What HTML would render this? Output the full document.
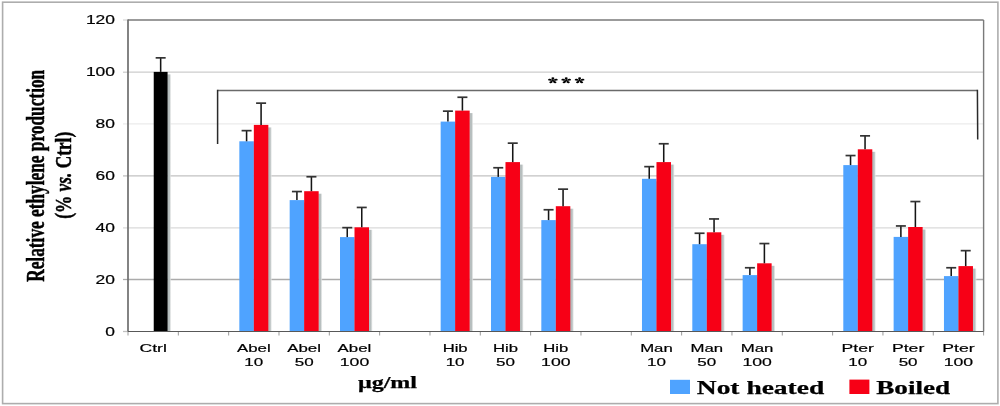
<!DOCTYPE html>
<html><head><meta charset="utf-8"><title>Chart</title>
<style>
html,body{margin:0;padding:0;background:#fff;}
body{width:1000px;height:406px;overflow:hidden;}
svg{display:block;will-change:transform;}
text{font-family:"Liberation Sans",sans-serif;fill:#000;}
.sf{font-family:"Liberation Serif",serif;}
.ss{stroke:#000;stroke-width:0.2px;}
.sb{stroke:#000;stroke-width:0.5px;}
.sl{stroke:#000;stroke-width:0.25px;}
</style></head><body>
<svg width="1000" height="406" viewBox="0 0 1000 406">
<rect width="1000" height="406" fill="#fff"/>
<defs><linearGradient id="shg" x1="0" x2="1" y1="0" y2="0"><stop offset="0" stop-color="#B4BCBC"/><stop offset="0.5" stop-color="#B8BFBF"/><stop offset="0.72" stop-color="#D4D8D8" stop-opacity="0.8"/><stop offset="1" stop-color="#FFFFFF" stop-opacity="0"/></linearGradient></defs>
<line x1="128" y1="279.5" x2="983.61" y2="279.5" stroke="#ABABAB" stroke-width="1.3"/>
<line x1="128" y1="227.9" x2="983.61" y2="227.9" stroke="#DADADA" stroke-width="1.3"/>
<line x1="128" y1="175.9" x2="983.61" y2="175.9" stroke="#C2C2C2" stroke-width="1.3"/>
<line x1="128" y1="123.9" x2="983.61" y2="123.9" stroke="#EBEBEB" stroke-width="1.3"/>
<line x1="128" y1="72.2" x2="983.61" y2="72.2" stroke="#CDCDCD" stroke-width="1.3"/>
<line x1="123" y1="331.5" x2="128" y2="331.5" stroke="#C0C0C0" stroke-width="1.3"/>
<line x1="123" y1="279.5" x2="128" y2="279.5" stroke="#ABABAB" stroke-width="1.3"/>
<line x1="123" y1="227.9" x2="128" y2="227.9" stroke="#DADADA" stroke-width="1.3"/>
<line x1="123" y1="175.9" x2="128" y2="175.9" stroke="#C2C2C2" stroke-width="1.3"/>
<line x1="123" y1="123.9" x2="128" y2="123.9" stroke="#EBEBEB" stroke-width="1.3"/>
<line x1="123" y1="72.2" x2="128" y2="72.2" stroke="#CDCDCD" stroke-width="1.3"/>
<line x1="123" y1="20" x2="128" y2="20" stroke="#D8D8D8" stroke-width="1.3"/>
<line x1="128" y1="331.5" x2="128" y2="335.5" stroke="#9A9A9A" stroke-width="1"/>
<line x1="178.33" y1="331.5" x2="178.33" y2="335.5" stroke="#9A9A9A" stroke-width="1"/>
<line x1="228.66" y1="331.5" x2="228.66" y2="335.5" stroke="#9A9A9A" stroke-width="1"/>
<line x1="278.99" y1="331.5" x2="278.99" y2="335.5" stroke="#9A9A9A" stroke-width="1"/>
<line x1="329.32" y1="331.5" x2="329.32" y2="335.5" stroke="#9A9A9A" stroke-width="1"/>
<line x1="379.65" y1="331.5" x2="379.65" y2="335.5" stroke="#9A9A9A" stroke-width="1"/>
<line x1="429.98" y1="331.5" x2="429.98" y2="335.5" stroke="#9A9A9A" stroke-width="1"/>
<line x1="480.31" y1="331.5" x2="480.31" y2="335.5" stroke="#9A9A9A" stroke-width="1"/>
<line x1="530.64" y1="331.5" x2="530.64" y2="335.5" stroke="#9A9A9A" stroke-width="1"/>
<line x1="580.97" y1="331.5" x2="580.97" y2="335.5" stroke="#9A9A9A" stroke-width="1"/>
<line x1="631.3" y1="331.5" x2="631.3" y2="335.5" stroke="#9A9A9A" stroke-width="1"/>
<line x1="681.63" y1="331.5" x2="681.63" y2="335.5" stroke="#9A9A9A" stroke-width="1"/>
<line x1="731.96" y1="331.5" x2="731.96" y2="335.5" stroke="#9A9A9A" stroke-width="1"/>
<line x1="782.29" y1="331.5" x2="782.29" y2="335.5" stroke="#9A9A9A" stroke-width="1"/>
<line x1="832.62" y1="331.5" x2="832.62" y2="335.5" stroke="#9A9A9A" stroke-width="1"/>
<line x1="882.95" y1="331.5" x2="882.95" y2="335.5" stroke="#9A9A9A" stroke-width="1"/>
<line x1="933.28" y1="331.5" x2="933.28" y2="335.5" stroke="#9A9A9A" stroke-width="1"/>
<line x1="983.61" y1="331.5" x2="983.61" y2="335.5" stroke="#9A9A9A" stroke-width="1"/>
<rect x="167.28" y="74.4" width="4.3" height="257.1" fill="url(#shg)"/>
<rect x="153.73" y="71.9" width="13.85" height="259.6" fill="#000000"/>
<rect x="253.54" y="143.8" width="4.3" height="187.7" fill="url(#shg)"/>
<rect x="239.34" y="141.3" width="14.5" height="190.2" fill="#4FA3FF"/>
<rect x="268.04" y="127.4" width="4.3" height="204.1" fill="url(#shg)"/>
<rect x="253.84" y="124.9" width="14.5" height="206.6" fill="#F70016"/>
<rect x="303.87" y="202.6" width="4.3" height="128.9" fill="url(#shg)"/>
<rect x="289.67" y="200.1" width="14.5" height="131.4" fill="#4FA3FF"/>
<rect x="318.37" y="193.7" width="4.3" height="137.8" fill="url(#shg)"/>
<rect x="304.17" y="191.2" width="14.5" height="140.3" fill="#F70016"/>
<rect x="354.2" y="239.6" width="4.3" height="91.9" fill="url(#shg)"/>
<rect x="340" y="237.1" width="14.5" height="94.4" fill="#4FA3FF"/>
<rect x="368.7" y="229.8" width="4.3" height="101.7" fill="url(#shg)"/>
<rect x="354.5" y="227.3" width="14.5" height="104.2" fill="#F70016"/>
<rect x="454.86" y="124.1" width="4.3" height="207.4" fill="url(#shg)"/>
<rect x="440.66" y="121.6" width="14.5" height="209.9" fill="#4FA3FF"/>
<rect x="469.36" y="113.1" width="4.3" height="218.4" fill="url(#shg)"/>
<rect x="455.16" y="110.6" width="14.5" height="220.9" fill="#F70016"/>
<rect x="505.19" y="179.4" width="4.3" height="152.1" fill="url(#shg)"/>
<rect x="490.99" y="176.9" width="14.5" height="154.6" fill="#4FA3FF"/>
<rect x="519.69" y="164.6" width="4.3" height="166.9" fill="url(#shg)"/>
<rect x="505.49" y="162.1" width="14.5" height="169.4" fill="#F70016"/>
<rect x="555.52" y="222.6" width="4.3" height="108.9" fill="url(#shg)"/>
<rect x="541.32" y="220.1" width="14.5" height="111.4" fill="#4FA3FF"/>
<rect x="570.02" y="208.7" width="4.3" height="122.8" fill="url(#shg)"/>
<rect x="555.82" y="206.2" width="14.5" height="125.3" fill="#F70016"/>
<rect x="656.18" y="181.3" width="4.3" height="150.2" fill="url(#shg)"/>
<rect x="641.98" y="178.8" width="14.5" height="152.7" fill="#4FA3FF"/>
<rect x="670.68" y="164.6" width="4.3" height="166.9" fill="url(#shg)"/>
<rect x="656.48" y="162.1" width="14.5" height="169.4" fill="#F70016"/>
<rect x="706.51" y="246.7" width="4.3" height="84.8" fill="url(#shg)"/>
<rect x="692.31" y="244.2" width="14.5" height="87.3" fill="#4FA3FF"/>
<rect x="721.01" y="234.8" width="4.3" height="96.7" fill="url(#shg)"/>
<rect x="706.81" y="232.3" width="14.5" height="99.2" fill="#F70016"/>
<rect x="756.84" y="277.6" width="4.3" height="53.9" fill="url(#shg)"/>
<rect x="742.64" y="275.1" width="14.5" height="56.4" fill="#4FA3FF"/>
<rect x="771.34" y="265.8" width="4.3" height="65.7" fill="url(#shg)"/>
<rect x="757.14" y="263.3" width="14.5" height="68.2" fill="#F70016"/>
<rect x="857.5" y="167.6" width="4.3" height="163.9" fill="url(#shg)"/>
<rect x="843.3" y="165.1" width="14.5" height="166.4" fill="#4FA3FF"/>
<rect x="872" y="151.8" width="4.3" height="179.7" fill="url(#shg)"/>
<rect x="857.8" y="149.3" width="14.5" height="182.2" fill="#F70016"/>
<rect x="907.83" y="239.4" width="4.3" height="92.1" fill="url(#shg)"/>
<rect x="893.63" y="236.9" width="14.5" height="94.6" fill="#4FA3FF"/>
<rect x="922.33" y="229.5" width="4.3" height="102" fill="url(#shg)"/>
<rect x="908.13" y="227" width="14.5" height="104.5" fill="#F70016"/>
<rect x="958.16" y="278.6" width="4.3" height="52.9" fill="url(#shg)"/>
<rect x="943.96" y="276.1" width="14.5" height="55.4" fill="#4FA3FF"/>
<rect x="972.66" y="268.6" width="4.3" height="62.9" fill="url(#shg)"/>
<rect x="958.46" y="266.1" width="14.5" height="65.4" fill="#F70016"/>
<line x1="160.66" y1="71.9" x2="160.66" y2="57.7" stroke="#151515" stroke-width="1.55"/>
<line x1="155.66" y1="57.85" x2="165.66" y2="57.85" stroke="#333" stroke-width="1.7"/>
<line x1="246.59" y1="141.3" x2="246.59" y2="130.5" stroke="#151515" stroke-width="1.55"/>
<line x1="241.59" y1="130.65" x2="251.59" y2="130.65" stroke="#333" stroke-width="1.7"/>
<line x1="261.09" y1="124.9" x2="261.09" y2="103" stroke="#151515" stroke-width="1.55"/>
<line x1="256.09" y1="103.15" x2="266.09" y2="103.15" stroke="#333" stroke-width="1.7"/>
<line x1="296.92" y1="200.1" x2="296.92" y2="191.4" stroke="#151515" stroke-width="1.55"/>
<line x1="291.92" y1="191.55" x2="301.92" y2="191.55" stroke="#333" stroke-width="1.7"/>
<line x1="311.42" y1="191.2" x2="311.42" y2="176.6" stroke="#151515" stroke-width="1.55"/>
<line x1="306.42" y1="176.75" x2="316.42" y2="176.75" stroke="#333" stroke-width="1.7"/>
<line x1="347.25" y1="237.1" x2="347.25" y2="227.5" stroke="#151515" stroke-width="1.55"/>
<line x1="342.25" y1="227.65" x2="352.25" y2="227.65" stroke="#333" stroke-width="1.7"/>
<line x1="361.75" y1="227.3" x2="361.75" y2="207.3" stroke="#151515" stroke-width="1.55"/>
<line x1="356.75" y1="207.45" x2="366.75" y2="207.45" stroke="#333" stroke-width="1.7"/>
<line x1="447.91" y1="121.6" x2="447.91" y2="111" stroke="#151515" stroke-width="1.55"/>
<line x1="442.91" y1="111.15" x2="452.91" y2="111.15" stroke="#333" stroke-width="1.7"/>
<line x1="462.41" y1="110.6" x2="462.41" y2="97.1" stroke="#151515" stroke-width="1.55"/>
<line x1="457.41" y1="97.25" x2="467.41" y2="97.25" stroke="#333" stroke-width="1.7"/>
<line x1="498.24" y1="176.9" x2="498.24" y2="167.6" stroke="#151515" stroke-width="1.55"/>
<line x1="493.24" y1="167.75" x2="503.24" y2="167.75" stroke="#333" stroke-width="1.7"/>
<line x1="512.74" y1="162.1" x2="512.74" y2="143" stroke="#151515" stroke-width="1.55"/>
<line x1="507.74" y1="143.15" x2="517.74" y2="143.15" stroke="#333" stroke-width="1.7"/>
<line x1="548.57" y1="220.1" x2="548.57" y2="209.6" stroke="#151515" stroke-width="1.55"/>
<line x1="543.57" y1="209.75" x2="553.57" y2="209.75" stroke="#333" stroke-width="1.7"/>
<line x1="563.07" y1="206.2" x2="563.07" y2="189" stroke="#151515" stroke-width="1.55"/>
<line x1="558.07" y1="189.15" x2="568.07" y2="189.15" stroke="#333" stroke-width="1.7"/>
<line x1="649.23" y1="178.8" x2="649.23" y2="166.5" stroke="#151515" stroke-width="1.55"/>
<line x1="644.23" y1="166.65" x2="654.23" y2="166.65" stroke="#333" stroke-width="1.7"/>
<line x1="663.73" y1="162.1" x2="663.73" y2="143.6" stroke="#151515" stroke-width="1.55"/>
<line x1="658.73" y1="143.75" x2="668.73" y2="143.75" stroke="#333" stroke-width="1.7"/>
<line x1="699.56" y1="244.2" x2="699.56" y2="233.1" stroke="#151515" stroke-width="1.55"/>
<line x1="694.56" y1="233.25" x2="704.56" y2="233.25" stroke="#333" stroke-width="1.7"/>
<line x1="714.06" y1="232.3" x2="714.06" y2="218.8" stroke="#151515" stroke-width="1.55"/>
<line x1="709.06" y1="218.95" x2="719.06" y2="218.95" stroke="#333" stroke-width="1.7"/>
<line x1="749.89" y1="275.1" x2="749.89" y2="267.6" stroke="#151515" stroke-width="1.55"/>
<line x1="744.89" y1="267.75" x2="754.89" y2="267.75" stroke="#333" stroke-width="1.7"/>
<line x1="764.39" y1="263.3" x2="764.39" y2="243.4" stroke="#151515" stroke-width="1.55"/>
<line x1="759.39" y1="243.55" x2="769.39" y2="243.55" stroke="#333" stroke-width="1.7"/>
<line x1="850.55" y1="165.1" x2="850.55" y2="155.4" stroke="#151515" stroke-width="1.55"/>
<line x1="845.55" y1="155.55" x2="855.55" y2="155.55" stroke="#333" stroke-width="1.7"/>
<line x1="865.05" y1="149.3" x2="865.05" y2="135.7" stroke="#151515" stroke-width="1.55"/>
<line x1="860.05" y1="135.85" x2="870.05" y2="135.85" stroke="#333" stroke-width="1.7"/>
<line x1="900.88" y1="236.9" x2="900.88" y2="225.8" stroke="#151515" stroke-width="1.55"/>
<line x1="895.88" y1="225.95" x2="905.88" y2="225.95" stroke="#333" stroke-width="1.7"/>
<line x1="915.38" y1="227" x2="915.38" y2="201.4" stroke="#151515" stroke-width="1.55"/>
<line x1="910.38" y1="201.55" x2="920.38" y2="201.55" stroke="#333" stroke-width="1.7"/>
<line x1="951.21" y1="276.1" x2="951.21" y2="267.6" stroke="#151515" stroke-width="1.55"/>
<line x1="946.21" y1="267.75" x2="956.21" y2="267.75" stroke="#333" stroke-width="1.7"/>
<line x1="965.71" y1="266.1" x2="965.71" y2="250.5" stroke="#151515" stroke-width="1.55"/>
<line x1="960.71" y1="250.65" x2="970.71" y2="250.65" stroke="#333" stroke-width="1.7"/>
<line x1="128" y1="20" x2="983.61" y2="20" stroke="#7A7A7A" stroke-width="1.4"/>
<line x1="983.61" y1="20" x2="983.61" y2="331.5" stroke="#7A7A7A" stroke-width="1.4"/>
<line x1="128" y1="19.5" x2="128" y2="331.5" stroke="#6E6E6E" stroke-width="1.7"/>
<line x1="128" y1="331.5" x2="983.61" y2="331.5" stroke="#585858" stroke-width="1.1"/>
<path d="M217.6 90.4 H977.4" fill="none" stroke="#6A6A6A" stroke-width="1.5"/>
<path d="M217.6 89.7 V144.1 M977.4 89.7 L977.7 139.5" fill="none" stroke="#2A2A2A" stroke-width="1.5"/>
<defs><g id="st"><path transform="rotate(-90)" d="M0,0 C1.0,-0.5 1.5,-0.95 2.3,-0.95 A0.95 0.95 0 0 1 2.3,0.95 C1.5,0.95 1.0,0.5 0,0 Z"/><path transform="rotate(-18)" d="M0,0 C1.0,-0.5 1.5,-0.95 2.3,-0.95 A0.95 0.95 0 0 1 2.3,0.95 C1.5,0.95 1.0,0.5 0,0 Z"/><path transform="rotate(54)" d="M0,0 C1.0,-0.5 1.5,-0.95 2.3,-0.95 A0.95 0.95 0 0 1 2.3,0.95 C1.5,0.95 1.0,0.5 0,0 Z"/><path transform="rotate(126)" d="M0,0 C1.0,-0.5 1.5,-0.95 2.3,-0.95 A0.95 0.95 0 0 1 2.3,0.95 C1.5,0.95 1.0,0.5 0,0 Z"/><path transform="rotate(198)" d="M0,0 C1.0,-0.5 1.5,-0.95 2.3,-0.95 A0.95 0.95 0 0 1 2.3,0.95 C1.5,0.95 1.0,0.5 0,0 Z"/><circle r="0.6"/></g></defs>
<use href="#st" transform="translate(552.9 80.4) scale(1.55 1)" fill="#000"/>
<use href="#st" transform="translate(566.2 80.4) scale(1.55 1)" fill="#000"/>
<use href="#st" transform="translate(579.6 80.4) scale(1.55 1)" fill="#000"/>
<text x="115.0" y="335.9" text-anchor="end" font-size="12" class="ss" textLength="9.7" lengthAdjust="spacingAndGlyphs">0</text>
<text x="115.0" y="283.98" text-anchor="end" font-size="12" class="ss" textLength="19.4" lengthAdjust="spacingAndGlyphs">20</text>
<text x="115.0" y="232.07" text-anchor="end" font-size="12" class="ss" textLength="19.4" lengthAdjust="spacingAndGlyphs">40</text>
<text x="115.0" y="180.15" text-anchor="end" font-size="12" class="ss" textLength="19.4" lengthAdjust="spacingAndGlyphs">60</text>
<text x="115.0" y="128.23" text-anchor="end" font-size="12" class="ss" textLength="19.4" lengthAdjust="spacingAndGlyphs">80</text>
<text x="115.0" y="76.32" text-anchor="end" font-size="12" class="ss" textLength="29.1" lengthAdjust="spacingAndGlyphs">100</text>
<text x="115.0" y="24.4" text-anchor="end" font-size="12" class="ss" textLength="29.1" lengthAdjust="spacingAndGlyphs">120</text>
<text x="153.16" y="352.2" text-anchor="middle" font-size="11.6" class="ss" textLength="27.4" lengthAdjust="spacingAndGlyphs">Ctrl</text>
<text x="253.82" y="352.2" text-anchor="middle" font-size="11.6" class="ss" textLength="33.7" lengthAdjust="spacingAndGlyphs">Abel</text>
<text x="253.82" y="366.3" text-anchor="middle" font-size="11.6" class="ss" textLength="18.9" lengthAdjust="spacingAndGlyphs">10</text>
<text x="304.16" y="352.2" text-anchor="middle" font-size="11.6" class="ss" textLength="33.7" lengthAdjust="spacingAndGlyphs">Abel</text>
<text x="304.16" y="366.3" text-anchor="middle" font-size="11.6" class="ss" textLength="18.9" lengthAdjust="spacingAndGlyphs">50</text>
<text x="354.49" y="352.2" text-anchor="middle" font-size="11.6" class="ss" textLength="33.7" lengthAdjust="spacingAndGlyphs">Abel</text>
<text x="354.49" y="366.3" text-anchor="middle" font-size="11.6" class="ss" textLength="29.4" lengthAdjust="spacingAndGlyphs">100</text>
<text x="455.15" y="352.2" text-anchor="middle" font-size="11.6" class="ss" textLength="25" lengthAdjust="spacingAndGlyphs">Hib</text>
<text x="455.15" y="366.3" text-anchor="middle" font-size="11.6" class="ss" textLength="18.9" lengthAdjust="spacingAndGlyphs">10</text>
<text x="505.48" y="352.2" text-anchor="middle" font-size="11.6" class="ss" textLength="25" lengthAdjust="spacingAndGlyphs">Hib</text>
<text x="505.48" y="366.3" text-anchor="middle" font-size="11.6" class="ss" textLength="18.9" lengthAdjust="spacingAndGlyphs">50</text>
<text x="555.8" y="352.2" text-anchor="middle" font-size="11.6" class="ss" textLength="25" lengthAdjust="spacingAndGlyphs">Hib</text>
<text x="555.8" y="366.3" text-anchor="middle" font-size="11.6" class="ss" textLength="29.4" lengthAdjust="spacingAndGlyphs">100</text>
<text x="656.46" y="352.2" text-anchor="middle" font-size="11.6" class="ss" textLength="32.6" lengthAdjust="spacingAndGlyphs">Man</text>
<text x="656.46" y="366.3" text-anchor="middle" font-size="11.6" class="ss" textLength="18.9" lengthAdjust="spacingAndGlyphs">10</text>
<text x="706.79" y="352.2" text-anchor="middle" font-size="11.6" class="ss" textLength="32.6" lengthAdjust="spacingAndGlyphs">Man</text>
<text x="706.79" y="366.3" text-anchor="middle" font-size="11.6" class="ss" textLength="18.9" lengthAdjust="spacingAndGlyphs">50</text>
<text x="757.12" y="352.2" text-anchor="middle" font-size="11.6" class="ss" textLength="32.6" lengthAdjust="spacingAndGlyphs">Man</text>
<text x="757.12" y="366.3" text-anchor="middle" font-size="11.6" class="ss" textLength="29.4" lengthAdjust="spacingAndGlyphs">100</text>
<text x="857.78" y="352.2" text-anchor="middle" font-size="11.6" class="ss" textLength="32.3" lengthAdjust="spacingAndGlyphs">Pter</text>
<text x="857.78" y="366.3" text-anchor="middle" font-size="11.6" class="ss" textLength="18.9" lengthAdjust="spacingAndGlyphs">10</text>
<text x="908.11" y="352.2" text-anchor="middle" font-size="11.6" class="ss" textLength="32.3" lengthAdjust="spacingAndGlyphs">Pter</text>
<text x="908.11" y="366.3" text-anchor="middle" font-size="11.6" class="ss" textLength="18.9" lengthAdjust="spacingAndGlyphs">50</text>
<text x="958.44" y="352.2" text-anchor="middle" font-size="11.6" class="ss" textLength="32.3" lengthAdjust="spacingAndGlyphs">Pter</text>
<text x="958.44" y="366.3" text-anchor="middle" font-size="11.6" class="ss" textLength="29.4" lengthAdjust="spacingAndGlyphs">100</text>
<text x="387.4" y="388.4" text-anchor="middle" class="sf sl" font-weight="bold" font-size="15.9" textLength="59" lengthAdjust="spacingAndGlyphs">&#181;g/ml</text>
<g transform="translate(43.9 175.8) rotate(-90)"><text x="0" y="0" text-anchor="middle" class="sf sb" font-weight="bold" font-size="24.6" textLength="212" lengthAdjust="spacingAndGlyphs">Relative ethylene production</text></g>
<g transform="translate(71.2 175.3) rotate(-90)"><text x="0" y="0" text-anchor="middle" class="sf sb" font-weight="bold" font-size="24" textLength="87" lengthAdjust="spacingAndGlyphs">(% <tspan font-style="italic">vs.</tspan> Ctrl)</text></g>
<rect x="670" y="379.8" width="20" height="14.2" fill="#4FA3FF"/>
<text x="696.8" y="394.3" class="sf sl" font-weight="bold" font-size="19.4" textLength="127.4" lengthAdjust="spacingAndGlyphs">Not heated</text>
<rect x="849.4" y="379.6" width="20" height="14.4" fill="#F70016"/>
<text x="876.2" y="394.2" class="sf sl" font-weight="bold" font-size="19.4" textLength="74" lengthAdjust="spacingAndGlyphs">Boiled</text>
<rect x="2.6" y="2.2" width="995.3" height="401.4" fill="none" stroke="#ADADAD" stroke-width="1.6"/>
</svg>
</body></html>
